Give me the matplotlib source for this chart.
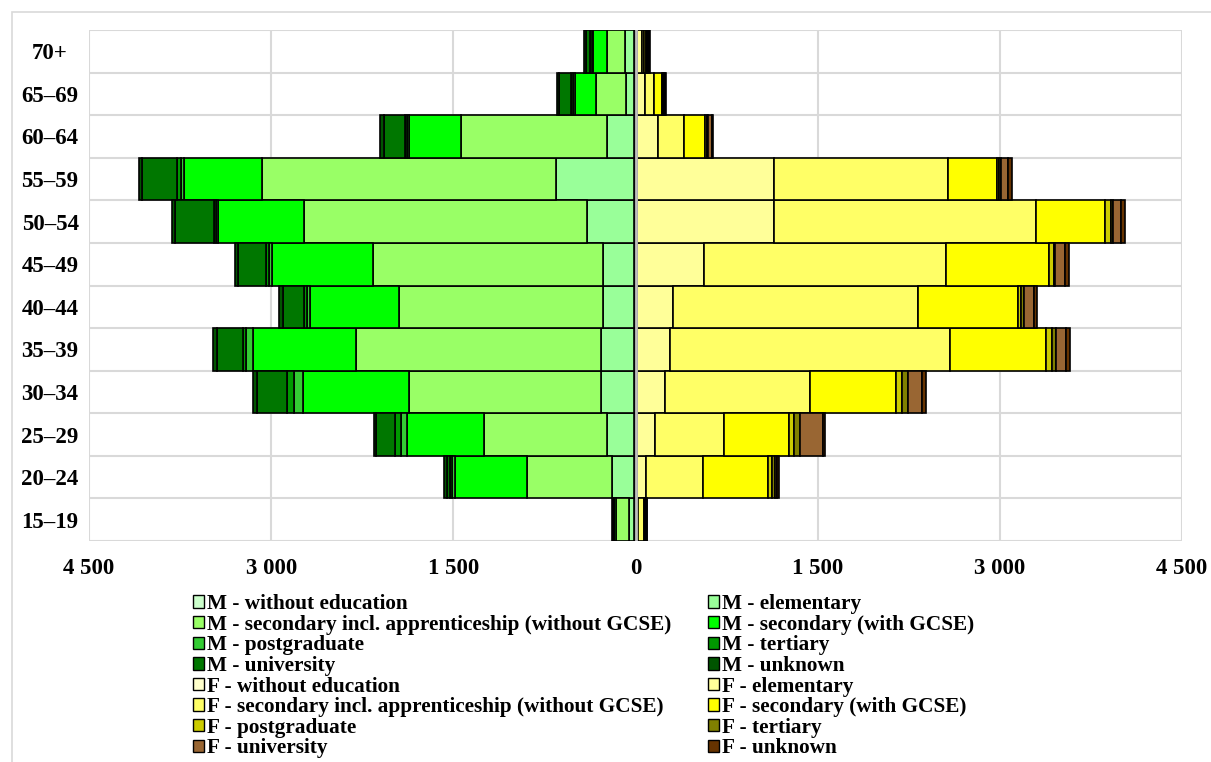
import matplotlib
matplotlib.use("Agg")
import matplotlib.pyplot as plt
from matplotlib.patches import Rectangle, Patch
import numpy as np

plt.rcParams['font.family'] = ['Liberation Serif', 'DejaVu Serif']
plt.rcParams['font.weight'] = 'bold'

ages = ['15–19', '20–24', '25–29', '30–34', '35–39', '40–44', '45–49',
        '50–54', '55–59', '60–64', '65–69', '70+']

# Males (order: 15–19 ... 70+)
m_without = [10, 12, 12, 12, 12, 12, 12, 16, 16, 12, 12, 12]
m_elementary = [41, 185, 222, 276, 276, 253, 257, 383, 638, 222, 66, 78]
m_sec_incl = [107, 700, 1012, 1580, 2016, 1682, 1896, 2329, 2420, 1206, 245, 148]
m_gcse = [16, 593, 638, 872, 844, 732, 826, 708, 642, 428, 173, 111]
m_postgrad = [4, 25, 45, 70, 58, 23, 26, 20, 29, 16, 18, 12]
m_tertiary = [4, 16, 49, 62, 25, 25, 25, 16, 29, 16, 16, 12]
m_university = [4, 25, 156, 247, 218, 179, 235, 317, 288, 175, 103, 33]
m_unknown = [4, 19, 23, 27, 27, 28, 22, 25, 25, 28, 16, 18]

# Females
f_without = [8, 16, 16, 16, 16, 16, 16, 16, 16, 16, 10, 10]
f_elementary = [15, 70, 144, 226, 267, 294, 550, 1123, 1126, 169, 70, 43]
f_sec_incl = [45, 467, 570, 1198, 2304, 2019, 1993, 2156, 1430, 218, 70, 15]
f_gcse = [10, 537, 537, 704, 794, 819, 844, 568, 403, 171, 66, 18]
f_postgrad = [5, 33, 37, 53, 45, 30, 39, 49, 16, 12, 10, 8]
f_tertiary = [5, 25, 49, 49, 33, 19, 15, 20, 16, 12, 10, 8]
f_university = [5, 16, 187, 117, 82, 85, 81, 62, 60, 28, 8, 8]
f_unknown = [5, 19, 19, 27, 35, 28, 33, 33, 36, 11, 8, 10]

levels = ['without education', 'elementary',
          'secondary incl. apprenticeship (without GCSE)',
          'secondary (with GCSE)', 'postgraduate', 'tertiary',
          'university', 'unknown']
male_colors = ['#CCFFCC', '#99FF99', '#99FF66', '#00FF00',
               '#33CC33', '#009900', '#007700', '#005500']
female_colors = ['#FFFFCC', '#FFFF99', '#FFFF66', '#FFFF00',
                 '#CCCC00', '#808000', '#996633', '#663300']

male = [m_without, m_elementary, m_sec_incl, m_gcse, m_postgrad,
        m_tertiary, m_university, m_unknown]
female = [f_without, f_elementary, f_sec_incl, f_gcse, f_postgrad,
          f_tertiary, f_university, f_unknown]

W, H = 1211, 762
fig = plt.figure(figsize=(W / 100, H / 100), dpi=100)
ax = fig.add_axes([89 / W, 1 - 541 / H, (1182 - 89) / W, (541 - 30) / H])

y = np.arange(len(ages))
handles = []
left = np.zeros(len(ages))
for vals, col, lev in zip(male, male_colors, levels):
    v = np.array(vals, dtype=float)
    ax.barh(y, -v, left=-left, height=1.0, color=col, edgecolor='black',
            linewidth=1.2, zorder=3)
    left += v
    handles.append(Patch(facecolor=col, edgecolor='black', linewidth=1.0,
                         label='M - ' + lev))
left = np.zeros(len(ages))
for vals, col, lev in zip(female, female_colors, levels):
    v = np.array(vals, dtype=float)
    ax.barh(y, v, left=left, height=1.0, color=col, edgecolor='black',
            linewidth=1.2, zorder=3)
    left += v
    handles.append(Patch(facecolor=col, edgecolor='black', linewidth=1.0,
                         label='F - ' + lev))

ax.axvline(0, color='#BFBFBF', linewidth=2, zorder=5)

ax.set_xlim(-4500, 4500)
ax.set_ylim(-0.5, len(ages) - 0.5)
xt = [-4500, -3000, -1500, 0, 1500, 3000, 4500]
ax.set_xticks(xt)
ax.set_xticklabels([f"{abs(t):,}".replace(',', ' ') for t in xt],
                   fontsize=16.5, fontweight='bold')
ax.set_yticks(y)
ax.set_yticklabels(ages, fontsize=16.5, fontweight='bold', ha='center')
ax.tick_params(axis='y', length=0, pad=28)
ax.tick_params(axis='x', length=0, pad=12)
for s in ax.spines.values():
    s.set_visible(False)
for t in xt:
    ax.axvline(t, color='#D9D9D9', linewidth=1.5, zorder=1)
for b in np.arange(-0.5, len(ages), 1.0):
    ax.axhline(b, color='#D9D9D9', linewidth=1.5, zorder=1)

# legend in row-major order over two columns
order = list(range(0, 16, 2)) + list(range(1, 16, 2))
leg = fig.legend([handles[i] for i in order], [handles[i].get_label() for i in order],
                 ncol=2, loc='upper left', bbox_to_anchor=(193 / W, 1 - 594 / H),
                 frameon=False, prop={'family': 'Liberation Serif', 'weight': 'bold', 'size': 15.3},
                 handlelength=0.52, handleheight=0.52, handletextpad=0.14,
                 labelspacing=0.03, columnspacing=1.74, borderaxespad=0, borderpad=0)

fig.patches.append(Rectangle((12 / W, -0.1), 2, 1 - 12 / H + 0.1,
                             transform=fig.transFigure, fill=False,
                             edgecolor='#D9D9D9', linewidth=1.2))

fig.savefig('out.png', dpi=100)
